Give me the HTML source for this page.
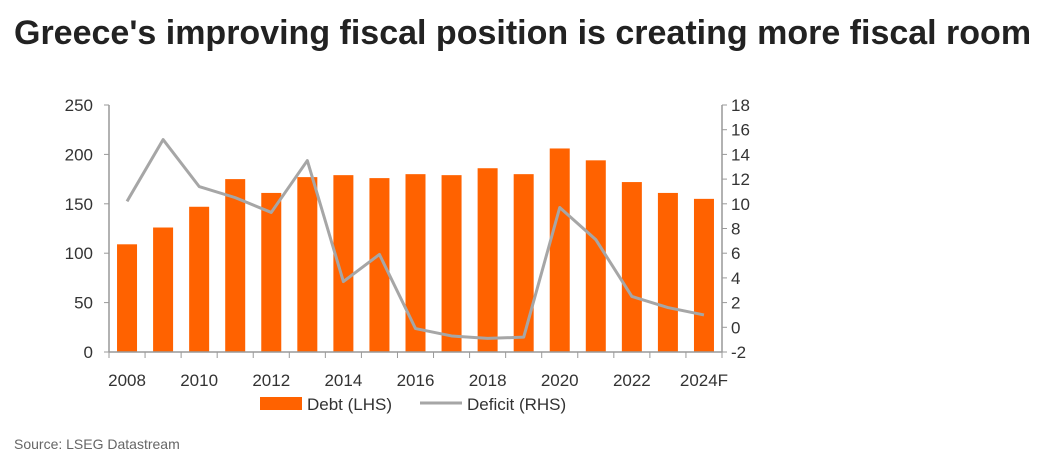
<!DOCTYPE html>
<html><head><meta charset="utf-8">
<style>
body{margin:0;background:#fff;font-family:"Liberation Sans",sans-serif;}
#wrap{position:relative;width:1046px;height:461px;overflow:hidden;}
h1{position:absolute;left:14px;top:14px;margin:0;font-size:34px;font-weight:bold;color:#222;letter-spacing:0px;white-space:nowrap;}
#src{position:absolute;left:14px;top:436px;font-size:14px;color:#666;}
</style></head><body>
<div id="wrap">
<h1>Greece's improving fiscal position is creating more fiscal room</h1>
<svg id="chart" width="1046" height="461" style="position:absolute;left:0;top:0"></svg>
<div id="src">Source: LSEG Datastream</div>
</div>
<script>
const years=["2008","2009","2010","2011","2012","2013","2014","2015","2016","2017","2018","2019","2020","2021","2022","2023","2024F"];
const debt=[109,126,147,175,161,177,179,176,180,179,186,180,206,194,172,161,155];
const deficit=[10.2,15.2,11.4,10.5,9.3,13.5,3.7,5.9,-0.1,-0.7,-0.9,-0.8,9.7,7.1,2.5,1.6,1.0];
const leftTicks=[0,50,100,150,200,250];
const rightTicks=[-2,0,2,4,6,8,10,12,14,16,18];
const xLabels=["2008","2010","2012","2014","2016","2018","2020","2022","2024F"];

const NS="http://www.w3.org/2000/svg";
const svg=document.getElementById('chart');
const X0=109,X1=722,Y0=352,Y1=105;
const band=(X1-X0)/years.length;
const xC=i=>X0+band*(i+0.5);
const yL=v=>Y0-(v-0)/(250-0)*(Y0-Y1);
const yR=v=>Y0-(v+2)/(20)*(Y0-Y1);
function mk(t,a){const e=document.createElementNS(NS,t);for(const k in a)e.setAttribute(k,a[k]);svg.appendChild(e);return e;}

debt.forEach((v,i)=>{
  const r=mk('rect',{x:xC(i)-10,y:yL(v),width:20,height:Y0-yL(v),fill:'#ff6200'});
  
  
});
const ax=mk('line',{x1:X0,y1:Y0,x2:X1,y2:Y0,stroke:'#999','stroke-width':1.5});


const la=mk('line',{x1:X0,y1:Y1,x2:X0,y2:Y0,stroke:'#999','stroke-width':1.5});


const ra=mk('line',{x1:X1,y1:Y1,x2:X1,y2:Y0,stroke:'#999','stroke-width':1.5});


for(let i=0;i<=years.length;i++){mk('line',{x1:X0+band*i,y1:Y0,x2:X0+band*i,y2:Y0+6,stroke:'#999'});}
leftTicks.forEach(v=>{
  mk('line',{x1:X0-5,y1:yL(v),x2:X0,y2:yL(v),stroke:'#999'});
  const t=mk('text',{x:93,y:yL(v)+6,'text-anchor':'end','font-size':17,fill:'#333'});t.textContent=v;
  
  
});
rightTicks.forEach(v=>{
  mk('line',{x1:X1,y1:yR(v),x2:X1+5,y2:yR(v),stroke:'#999'});
  const t=mk('text',{x:731,y:yR(v)+6,'font-size':17,fill:'#333'});t.textContent=v;
  
  
});
xLabels.forEach(l=>{
  const i=years.indexOf(l);
  const t=mk('text',{x:xC(i),y:Y0+34,'text-anchor':'middle','font-size':17,fill:'#333'});t.textContent=l;
  
  
});
const pl=mk('polyline',{points:deficit.map((v,i)=>xC(i)+','+yR(v)).join(' '),fill:'none',stroke:'#a6a6a6','stroke-width':3,'stroke-linejoin':'round'});


const lr=mk('rect',{x:260,y:397,width:42,height:13,fill:'#ff6200'});


const lt1=mk('text',{x:307,y:410,'font-size':17,fill:'#333'});lt1.textContent='Debt (LHS)';


const ll=mk('line',{x1:420,y1:403,x2:462,y2:403,stroke:'#a6a6a6','stroke-width':3});


const lt2=mk('text',{x:467,y:410,'font-size':17,fill:'#333'});lt2.textContent='Deficit (RHS)';


</script>
</body></html>
